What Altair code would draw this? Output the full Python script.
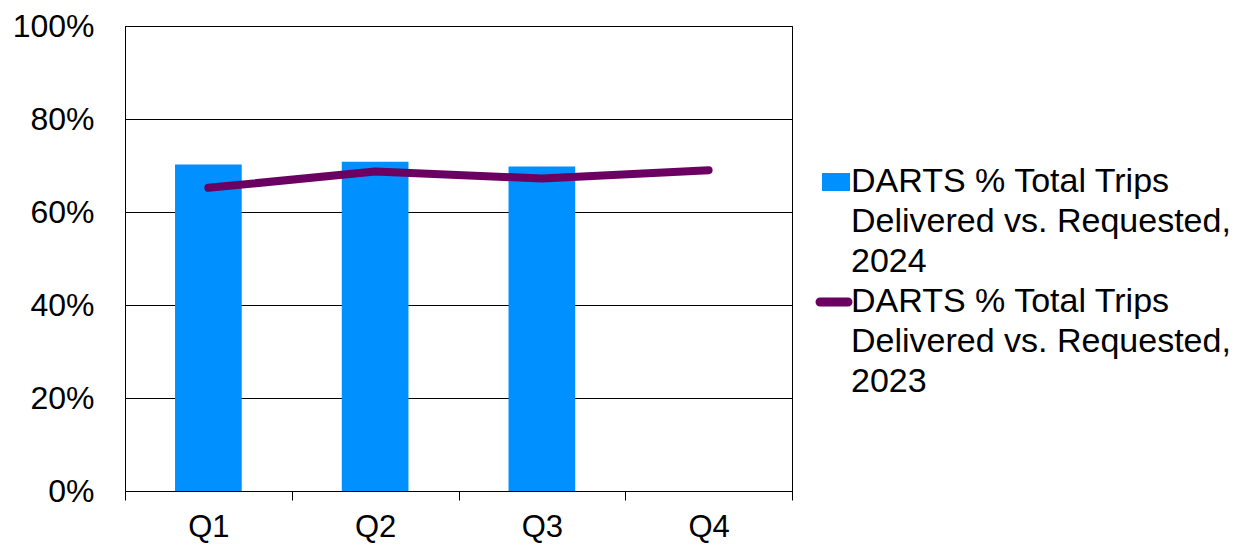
import altair as alt
import pandas as pd

quarters = ["Q1", "Q2", "Q3", "Q4"]
bar_quarters = ["Q1", "Q2", "Q3"]
values_2024 = [0.702, 0.708, 0.698]
values_2023 = [0.652, 0.687, 0.672, 0.690]
series_names = ["DARTS % Total Trips\nDelivered vs. Requested,\n2024",
                "DARTS % Total Trips\nDelivered vs. Requested,\n2023"]
series_colors = ["#0090FF", "#6B0062"]

bars_df = pd.DataFrame({"q": bar_quarters, "v": values_2024})
line_df = pd.DataFrame({"q": quarters, "v": values_2023})

font = "Liberation Sans"
x = alt.X("q:N", scale=alt.Scale(domain=quarters, paddingInner=0, paddingOuter=0),
          axis=alt.Axis(title=None, labelAngle=0, labelFontSize=31, labelFont=font,
                        labelColor="black", labelPadding=12, tickSize=9, tickColor="black",
                        tickBand="extent", domainColor="black", grid=False))
y = alt.Y("v:Q", scale=alt.Scale(domain=[0, 1]),
          axis=alt.Axis(title=None, format=".0%", values=[0, 0.2, 0.4, 0.6, 0.8, 1.0],
                        labelFontSize=32, labelFont=font, labelColor="black",
                        labelPadding=31, ticks=False, domainColor="black",
                        gridColor="black", gridOpacity=1, gridWidth=1))

bars = alt.Chart(bars_df).mark_bar(color=series_colors[0],
                                   width=alt.RelativeBandSize(0.4)).encode(x=x, y=y)
line = alt.Chart(line_df).mark_line(color=series_colors[1], strokeWidth=8,
                                    strokeCap="round", strokeJoin="round").encode(x=x, y=y)

main = alt.layer(bars, line).properties(
    width=667, height=465, view=alt.ViewBackground(stroke="black", strokeWidth=1)
)

# legend panel
leg_df = pd.DataFrame({"name": series_names, "line": [0, 3], "color": series_colors})
ly = alt.Y("line:Q", scale=alt.Scale(domain=[0, 5], range=[156, 356]), axis=None)

leg_text = alt.Chart(leg_df).mark_text(
    align="left", baseline="middle", fontSize=34, font=font, color="black",
    lineBreak="\n", lineHeight=40
).encode(x=alt.value(57), y=ly, text="name:N")
leg_box = alt.Chart(leg_df.iloc[[0]]).mark_tick(
    size=28, thickness=18, color=series_colors[0], opacity=1
).encode(x=alt.value(42), y=ly)
leg_line = alt.Chart(leg_df.iloc[[1]]).mark_tick(
    size=37, thickness=9, cornerRadius=4.5, color=series_colors[1], opacity=1
).encode(x=alt.value(40), y=ly)

legend = alt.layer(leg_box, leg_line, leg_text).properties(
    width=430, height=465, view=alt.ViewBackground(stroke="transparent")
)

chart = alt.hconcat(main, legend, spacing=0).properties(
    padding={"left": 3, "top": 1, "right": 0, "bottom": 0}
)

chart.save("out.html", embed_options={"renderer": "svg", "actions": False})
